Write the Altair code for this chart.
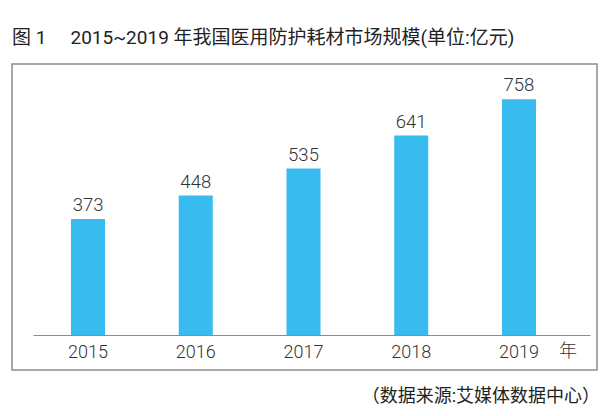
import altair as alt
import pandas as pd

years = ["2015", "2016", "2017", "2018", "2019"]
values = [373, 448, 535, 641, 758]

title_text = "图 1\u2003 2015~2019 年我国医用防护耗材市场规模(单位:亿元)"
source_text = "（数据来源:艾媒体数据中心）"
unit_text = "年"

df = pd.DataFrame({"year": years, "value": values})

NUM_FONT = "Roboto, Noto Sans CJK SC"
CJK = "Roboto, Noto Sans CJK SC"

base = alt.Chart(df).encode(
    x=alt.X(
        "year:N",
        sort=years,
        scale=alt.Scale(paddingInner=0.684, paddingOuter=0.427, align=0.413),
        axis=alt.Axis(
            title=None,
            labelAngle=0,
            ticks=False,
            tickSize=0,
            labelPadding=17,
            labelBaseline="middle",
            labelFontSize=18,
            labelFont=NUM_FONT,
            labelFontWeight=300,
            labelColor="#333333",
            domainColor="#8c8c8c",
            domainWidth=1.2,
            grid=False,
        ),
    ),
    y=alt.Y("value:Q", scale=alt.Scale(domain=[0, 871], nice=False), axis=None),
)

bars = base.mark_bar(color="#38BBEE")
labels = base.mark_text(
    dy=-8, baseline="alphabetic", fontSize=18.5, font=NUM_FONT, fontWeight=300,
    color="#333333"
).encode(text="value:Q")

one = alt.Data(values=[{}])

frame = alt.Chart(one).mark_rect(filled=False, stroke="#8c8c8c", strokeWidth=1.5).encode(
    x=alt.value(-21), x2=alt.value(564), y=alt.value(0), y2=alt.value(306)
)

title = alt.Chart(one).mark_text(
    align="left", baseline="middle", fontSize=19, font=CJK, color="#222222"
).encode(x=alt.value(-21), y=alt.value(-26), text=alt.value(title_text))

unit = alt.Chart(one).mark_text(
    align="center", baseline="middle", fontSize=18, font=CJK, fontWeight=300,
    color="#333333"
).encode(x=alt.value(535), y=alt.value(288), text=alt.value(unit_text))

source = alt.Chart(one).mark_text(
    align="right", baseline="middle", fontSize=18, font=CJK, color="#222222"
).encode(x=alt.value(567), y=alt.value(333), text=alt.value(source_text))

chart = (
    alt.layer(frame, bars, labels, title, unit, source)
    .properties(
        width=557,
        height=271,
        padding={"left": 25, "top": 56, "right": 11, "bottom": 73},
        autosize=alt.AutoSizeParams(type="none"),
        background="white",
    )
    .configure_view(strokeWidth=0)
)

chart.save("out.html", embed_options={"renderer": "svg", "actions": False})
